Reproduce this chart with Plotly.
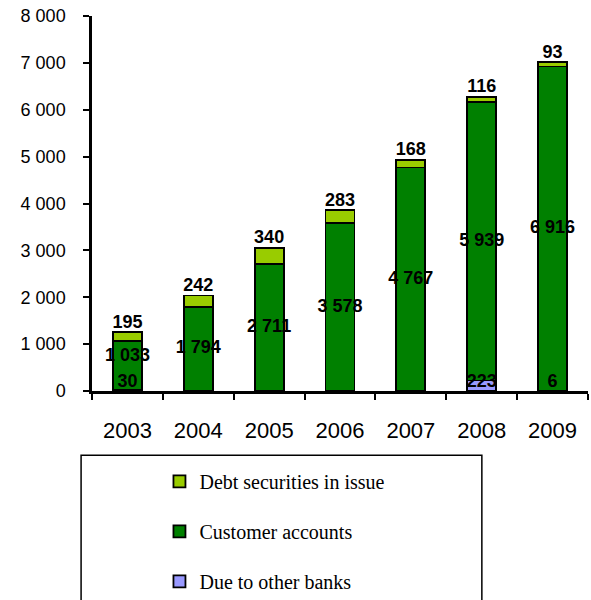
import plotly.graph_objects as go

years = ["2003", "2004", "2005", "2006", "2007", "2008", "2009"]
due_banks = [30, 0, 0, 0, 0, 223, 6]
customer = [1033, 1794, 2711, 3578, 4767, 5939, 6916]
debt = [195, 242, 340, 283, 168, 116, 93]
y_ticks = [0, 1000, 2000, 3000, 4000, 5000, 6000, 7000, 8000]

def fmt(v):
    return f"{v:,}".replace(",", " ")

fig = go.Figure()
line = dict(color="black", width=1.8)
fig.add_trace(go.Bar(x=years, y=due_banks, name="Due to other banks",
                     marker=dict(color="#9999FF", line=line),
                     legendgroup="c", legendrank=3))
fig.add_trace(go.Bar(x=years, y=customer, name="Customer accounts",
                     marker=dict(color="#008000", line=line),
                     legendgroup="b", legendrank=2))
fig.add_trace(go.Bar(x=years, y=debt, name="Debt securities in issue",
                     marker=dict(color="#99CC00", line=line),
                     legendgroup="a", legendrank=1))

lab_font = dict(family="Liberation Sans, Arial", size=18, color="black", weight="bold")

# Due to other banks labels (only nonzero)
dx = [y for y, v in zip(years, due_banks) if v > 0]
dy = [0 for v in due_banks if v > 0]
dt = [fmt(v) for v in due_banks if v > 0]
fig.add_trace(go.Scatter(x=dx, y=dy, text=dt, mode="text", textposition="top center",
                         textfont=lab_font, showlegend=False, cliponaxis=False, hoverinfo="skip"))
# Customer labels at segment centers (short first bar: label lifted to avoid clash)
cy = [d + c / 2 for d, c in zip(due_banks, customer)]
cpos = ["top center"] + ["middle center"] * (len(years) - 1)
fig.add_trace(go.Scatter(x=years, y=cy, text=[fmt(v) for v in customer], mode="text",
                         textposition=cpos, textfont=lab_font,
                         showlegend=False, cliponaxis=False, hoverinfo="skip"))
# Debt labels above totals
ty = [d + c + b for d, c, b in zip(due_banks, customer, debt)]
fig.add_trace(go.Scatter(x=years, y=ty, text=[fmt(v) for v in debt], mode="text",
                         textposition="top center", textfont=lab_font,
                         showlegend=False, cliponaxis=False, hoverinfo="skip"))

fig.update_layout(
    barmode="stack",
    bargap=0.59,
    width=591, height=600,
    margin=dict(l=92, r=3, t=16, b=209, autoexpand=False),
    plot_bgcolor="white", paper_bgcolor="white",
    separators=", ",
    showlegend=True,
    legend=dict(
        x=0.136, y=-0.189, xanchor="left", yanchor="top",
        font=dict(family="Liberation Serif, Times New Roman", size=20, color="black"),
        traceorder="grouped", tracegroupgap=21,
        bgcolor="rgba(0,0,0,0)", borderwidth=0,
    ),
    shapes=[dict(type="rect", xref="paper", yref="paper",
                 x0=-0.022, x1=0.786, y0=-0.171, y1=-0.62,
                 line=dict(color="black", width=1.5), fillcolor="rgba(0,0,0,0)")],
)
fig.update_xaxes(
    showline=True, linecolor="black", linewidth=2.5,
    ticks="outside", tickson="boundaries", ticklen=6, tickwidth=1.5, tickcolor="black",
    tickfont=dict(family="Liberation Sans, Arial", size=22, color="black"),
    ticklabelstandoff=18, showgrid=False,
)
fig.update_yaxes(
    range=[0, 8000], tickvals=y_ticks, tickformat=",d",
    showline=True, linecolor="black", linewidth=2.5,
    ticks="outside", ticklen=6, tickwidth=1.5, tickcolor="black",
    tickfont=dict(family="Liberation Sans, Arial", size=18, color="black"),
    ticklabelstandoff=14, showgrid=False, zeroline=False,
)

fig.write_html("out.html")
